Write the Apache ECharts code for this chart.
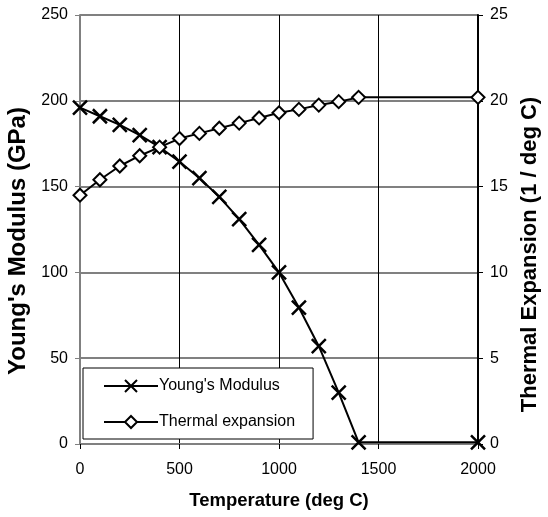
<!DOCTYPE html>
<html><head><meta charset="utf-8">
<script src="https://cdn.jsdelivr.net/npm/echarts@6/dist/echarts.min.js"></script>
<style>html,body{margin:0;padding:0;background:#fff}#c{width:548px;height:517px}</style>
</head><body><div id="c"></div>
<script>
const temps = [0,100,200,300,400,500,600,700,800,900,1000,1100,1200,1300,1400,2000];
const youngs = [196,191,186,180,173,164.5,155,144,131,116,100,79.5,57,30,1,1];
const thermal = [14.5,15.4,16.2,16.8,17.3,17.8,18.1,18.4,18.7,19.0,19.3,19.5,19.75,19.95,20.2,20.2];
const xTicks = [0,500,1000,1500,2000];
const leftTicks = [0,50,100,150,200,250];
const rightTicks = [0,5,10,15,20,25];

const font = 'Liberation Sans, Arial, sans-serif';
const crossPath = 'path://M0,0L10,10M10,0L0,10';
const chart = echarts.init(document.getElementById('c'));
chart.setOption({
  animation:false,
  backgroundColor:'#fff',
  grid:{left:80,right:70,top:15,bottom:73,containLabel:false,outerBoundsMode:'none'},
  legend:{
    orient:'vertical', left:83, top:368, width:230,
    padding:[10,18,9,20], itemGap:20,
    borderColor:'#000', borderWidth:1, backgroundColor:'#fff',
    itemWidth:54, itemHeight:15,
    textStyle:{fontFamily:font,fontSize:16,color:'#000',padding:[0,0,0,-4]},
    data:[{name:"Young's Modulus"},{name:'Thermal expansion'}]
  },
  xAxis:{
    type:'value', min:xTicks[0], max:xTicks[xTicks.length-1], interval:500,
    name:'Temperature (deg C)', nameLocation:'middle', nameGap:47,
    nameTextStyle:{fontFamily:font,fontSize:18.5,fontWeight:'bold',color:'#000'},
    axisLine:{lineStyle:{color:'#808080',width:2}},
    axisTick:{show:true,length:5,lineStyle:{color:'#000'}},
    axisLabel:{fontFamily:font,fontSize:16,color:'#000',margin:18,formatter:v=>String(v)},
    splitLine:{show:true,lineStyle:{color:'#000',width:1}}
  },
  yAxis:[{
    type:'value', min:leftTicks[0], max:leftTicks[leftTicks.length-1], interval:50,
    name:"Young's Modulus (GPa)", nameLocation:'middle', nameGap:39, nameRotate:90,
    nameTextStyle:{fontFamily:font,fontSize:24,fontWeight:'bold',color:'#000',padding:[0,23,0,0]},
    axisLine:{show:true,lineStyle:{color:'#808080',width:2}},
    axisTick:{show:true,length:5,lineStyle:{color:'#808080'}},
    axisLabel:{fontFamily:font,fontSize:16,color:'#000',margin:12},
    splitLine:{show:true,lineStyle:{color:'#808080',width:2}}
  },{
    type:'value', min:rightTicks[0], max:rightTicks[rightTicks.length-1], interval:5,
    name:'Thermal Expansion (1 / deg C)', nameLocation:'middle', nameGap:40, nameRotate:90,
    nameTextStyle:{fontFamily:font,fontSize:22,fontWeight:'bold',color:'#000',padding:[0,50,0,0]},
    axisLine:{show:true,lineStyle:{color:'#000',width:2}},
    axisTick:{show:true,length:5,lineStyle:{color:'#000'}},
    axisLabel:{fontFamily:font,fontSize:16,color:'#000',margin:12},
    splitLine:{show:false}
  }],
  series:[{
    name:"Young's Modulus", type:'line', yAxisIndex:0,
    data:temps.map((t,i)=>[t,youngs[i]]),
    symbol:crossPath, symbolSize:14,
    lineStyle:{color:'#000',width:2},
    itemStyle:{color:'#000',borderColor:'#000',borderWidth:2.5}
  },{
    name:'Thermal expansion', type:'line', yAxisIndex:1,
    data:temps.map((t,i)=>[t,thermal[i]]),
    symbol:'diamond', symbolSize:13,
    lineStyle:{color:'#000',width:2},
    itemStyle:{color:'#fff',borderColor:'#000',borderWidth:2}
  }]
});
</script></body></html>
